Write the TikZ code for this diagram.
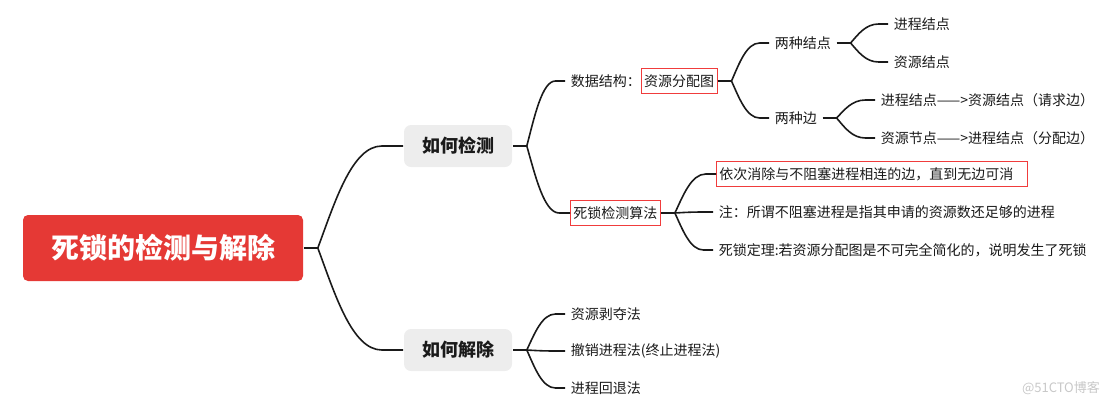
\documentclass[tikz,border=0pt]{standalone}
\usepackage{fontspec}
\setmainfont{Noto Sans CJK SC}
\usepackage{tikz}
\usetikzlibrary{calc,positioning}
\definecolor{rootred}{RGB}{229,57,53}
\definecolor{topicgray}{RGB}{237,237,237}
\definecolor{markred}{RGB}{240,60,60}
\definecolor{wire}{RGB}{26,26,26}
\definecolor{wmgray}{RGB}{200,200,200}
\tikzset{
	mind map diagram/.style={
		x=1pt, y=-1pt,
		color=wire,
		line width=1.6pt,
		every to/.style={br},
		root/.style={fill=rootred, text=white, rounded corners=5pt,
			minimum width=280pt, minimum height=66pt,
			font=\fontsize{28}{32}\selectfont\bfseries},
		topic/.style={fill=topicgray, rounded corners=7pt,
			minimum width=108pt, minimum height=42pt,
			font=\fontsize{18}{21}\selectfont\bfseries},
		leaf/.style={anchor=west, inner xsep=5pt, inner ysep=3pt,
			font=\fontsize{14}{16}\selectfont},
		marked/.style={leaf, draw=markred, line width=0.9pt,
			inner xsep=3pt, minimum height=25pt},
		fork/.store in=\forklen,
		fork=14
		},
	br/.style={to path={let \p1=(\tikztostart), \p2=(\tikztotarget) in
		.. controls ({\x1+0.2*(\x2-\x1)},{\y1+0.45*(\y2-\y1)})
		and ({\x1+0.4*(\x2-\x1)},\y2) .. ({\x1+0.75*(\x2-\x1)},\y2)
		-- (\tikztotarget)}},
	watermark/.style={anchor=east, text=wmgray, font=\fontsize{13}{15}\selectfont}
}

\begin{document}
\begin{tikzpicture}[mind map diagram]
	\useasboundingbox (0,0) rectangle (1116,408);
	\node[root] (R) at (163,248) {死锁的检测与解除};
	\node[topic] (T1) at (458,146) {如何检测};
	\node[topic] (T2) at (458,350) {如何解除};
	\node[leaf] (S1) at (565,81) {数据结构：};
	\node[marked, right=-6pt of S1] (G) {资源分配图};
	\node[leaf] (N) at (769,43) {两种结点};
	\node[leaf] (N1) at (888,24) {进程结点};
	\node[leaf] (N2) at (888,62) {资源结点};
	\node[leaf] (E) at (769,118) {两种边};
	\node[leaf] (E1) at (875,100) {进程结点——>资源结点（请求边）};
	\node[leaf] (E2) at (875,138) {资源节点——>进程结点（分配边）};
	\node[marked] (S2) at (570,213) {死锁检测算法};
	\node[marked, text width=305pt] (A1) at (716,174) {依次消除与不阻塞进程相连的边，直到无边可消};
	\node[leaf] (A2) at (713,212) {注：所谓不阻塞进程是指其申请的资源数还足够的进程};
	\node[leaf] (A3) at (713,250) {死锁定理:若资源分配图是不可完全简化的，说明发生了死锁};
	\node[leaf] (D1) at (565,314) {资源剥夺法};
	\node[leaf] (D2) at (565,351) {撤销进程法(终止进程法)};
	\node[leaf] (D3) at (565,388) {进程回退法};
	\node[watermark] (W) at (1104,388) {@51CTO博客};
	\draw (R.east) -- ++(\forklen,0) coordinate (Rf);
	\draw (Rf) to (T1.west);
	\draw (Rf) to (T2.west);
	\draw (T1.east) -- ++(\forklen,0) coordinate (T1f);
	\draw (T1f) to (S1.west);
	\draw (T1f) to (S2.west);
	\draw (G.east) -- ++(\forklen,0) coordinate (Gf);
	\draw (Gf) to (N.west);
	\draw (Gf) to (E.west);
	\draw (N.east) -- ++(\forklen,0) coordinate (Nf);
	\draw (Nf) to (N1.west);
	\draw (Nf) to (N2.west);
	\draw (E.east) -- ++(\forklen,0) coordinate (Ef);
	\draw (Ef) to (E1.west);
	\draw (Ef) to (E2.west);
	\draw (S2.east) -- ++(\forklen,0) coordinate (S2f);
	\draw (S2f) to (A1.west);
	\draw (S2f) to (A2.west);
	\draw (S2f) to (A3.west);
	\draw (T2.east) -- ++(\forklen,0) coordinate (T2f);
	\draw (T2f) to (D1.west);
	\draw (T2f) to (D2.west);
	\draw (T2f) to (D3.west);
\end{tikzpicture}
\end{document}
